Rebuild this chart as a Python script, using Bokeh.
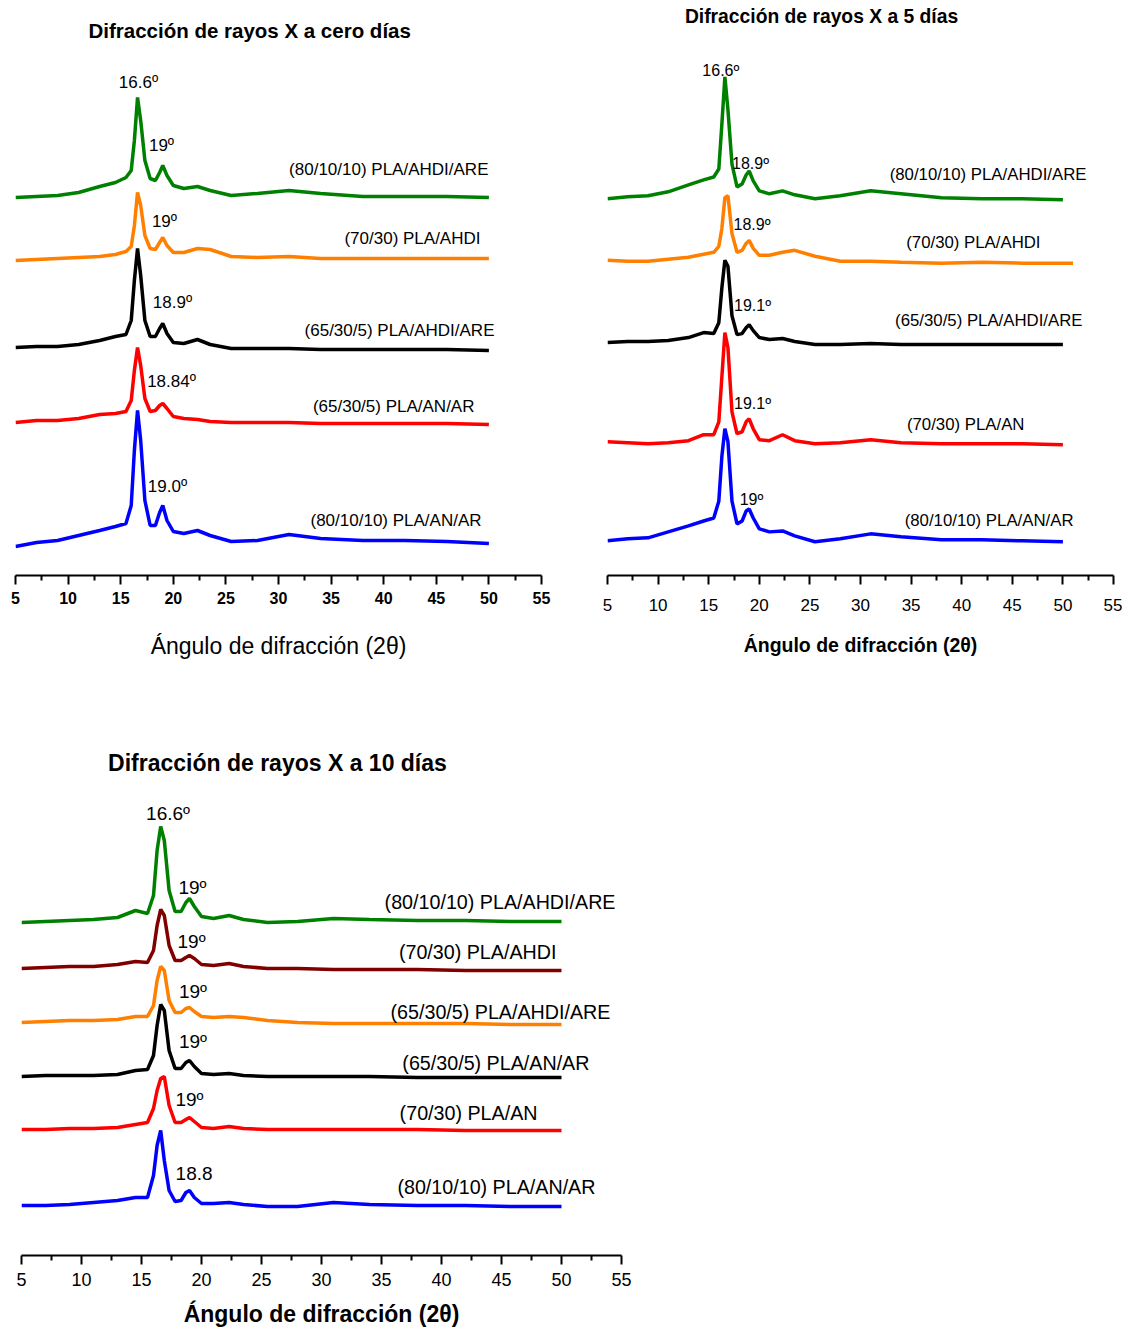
from bokeh.plotting import figure
from bokeh.models import Range1d, FixedTicker, Label
from bokeh.layouts import column, row
from bokeh.embed import file_html
from bokeh.resources import INLINE

# ---------------- data (intensity in arbitrary units, stacked as in the original) ----------------
ANGLES = [5, 7, 9, 11, 13, 14.5, 15.5, 16.0, 16.3, 16.6, 16.9, 17.3, 17.8, 18.3, 18.7,
          19.0, 19.4, 20.0, 21.0, 22.3, 23.5, 25.5, 28, 31, 34, 38, 42, 46, 50]

# Panel 1: cero días
D0_GREEN  = [378,379,380,383,389,393,398,405,435,478,455,415,397,395,403,410,400,390,387,389,385,380,382,385,382,379,379,379,378]
D0_ORANGE = [315,316,317,318,319,321,324,329,350,383,370,340,327,326,333,338,330,323,323,327,326,319,318,319,317,317,317,317,317]
D0_BLACK  = [228,229,229,231,235,239,241,255,295,327,300,255,239,239,247,252,242,233,232,236,231,227,227,227,226,226,226,226,225]
D0_RED    = [153,155,155,157,161,162,164,175,205,228,210,177,164,165,170,172,167,159,157,156,154,153,153,153,152,152,152,152,151]
D0_BLUE   = [29,33,35,40,45,49,52,70,125,165,135,75,50,50,63,70,55,44,42,45,40,34,35,41,37,35,35,34,32]

# Panel 2: 5 días
D5_GREEN  = [380,382,383,387,394,399,402,410,455,503,470,415,392,395,404,408,398,388,385,388,384,380,383,388,385,381,380,380,379]
D5_ORANGE = [318,317,317,319,321,324,326,332,350,381,383,345,326,328,335,338,330,323,323,326,328,322,317,317,316,315,316,315,315]
D5_ORANGE_TAIL = (51.0, 315)
D5_BLACK  = [235,236,236,237,240,245,244,255,290,318,312,262,243,244,250,253,247,240,238,239,236,233,233,234,233,233,233,233,233]
D5_RED    = [135,134,133,134,136,142,142,155,200,245,230,165,143,145,155,158,148,137,136,142,136,133,134,137,134,133,133,133,132]
D5_BLUE   = [35,37,38,44,50,55,58,75,120,148,135,75,52,55,65,67,58,47,44,45,40,34,37,42,39,36,36,35,34]

# Panel 3: 10 días
D10_GREEN   = [333,334,335,336,338,345,342,360,405,429,415,365,344,344,353,357,349,339,337,340,336,333,334,337,336,335,335,334,334]
D10_DARKRED = [287,288,289,289,291,294,293,305,330,346,340,310,295,295,298,300,297,291,290,292,289,287,287,286,286,286,285,285,285]
D10_ORANGE  = [233,234,235,235,236,239,239,250,275,289,285,255,243,243,247,248,244,239,238,239,238,235,233,232,232,232,232,231,231]
D10_BLACK   = [179,180,180,180,181,185,186,200,230,251,245,205,187,187,193,195,189,182,181,182,180,179,179,179,179,178,178,178,178]
D10_RED     = [126,126,127,127,128,131,133,147,165,177,179,150,133,133,136,138,134,128,127,129,127,126,126,126,126,126,125,125,125]
D10_BLUE    = [50,50,51,53,55,58,58,80,110,125,95,65,54,55,63,65,58,52,52,53,51,49,49,53,51,50,50,49,49]

TICKS = [5, 10, 15, 20, 25, 30, 35, 40, 45, 50, 55]
MINOR = [7.5, 12.5, 17.5, 22.5, 27.5, 32.5, 37.5, 42.5, 47.5, 52.5]

TITLES = ["Difracción de rayos X  a cero días", "Difracción de rayos X a 5 días", "Difracción de rayos X a 10 días"]
XLABELS = ["Ángulo de difracción (2θ)", "Ángulo de difracción (2θ)", "Ángulo de difracción (2θ)"]

SERIES0 = ["(80/10/10) PLA/AHDI/ARE", "(70/30) PLA/AHDI", "(65/30/5) PLA/AHDI/ARE", "(65/30/5) PLA/AN/AR", "(80/10/10) PLA/AN/AR"]
PEAKS0 = ["16.6º", "19º", "19º", "18.9º", "18.84º", "19.0º"]
SERIES5 = ["(80/10/10) PLA/AHDI/ARE", "(70/30) PLA/AHDI", "(65/30/5) PLA/AHDI/ARE", "(70/30) PLA/AN", "(80/10/10) PLA/AN/AR"]
PEAKS5 = ["16.6º", "18.9º", "18.9º", "19.1º", "19.1º", "19º"]
SERIES10 = ["(80/10/10) PLA/AHDI/ARE", "(70/30) PLA/AHDI", "(65/30/5) PLA/AHDI/ARE", "(65/30/5) PLA/AN/AR", "(70/30) PLA/AN", "(80/10/10) PLA/AN/AR"]
PEAKS10 = ["16.6º", "19º", "19º", "19º", "19º", "19º", "18.8"]

# ---------------- label placement (angle, intensity) ----------------
POS_SERIES0 = [(49.96, 406), (49.2, 337), (50.53, 245), (48.63, 169), (49.3, 55)]
POS_PEAKS0 = [(16.69, 493), (18.88, 430), (19.16, 354), (19.92, 273), (19.83, 194), (19.45, 89)]
POS_SERIES5 = [(52.33, 404), (47.79, 336), (51.94, 257), (46.2, 152), (51.05, 55)]
POS_PEAKS5 = [(16.2, 509), (19.13, 416), (19.28, 354), (19.33, 272), (19.33, 174), (19.23, 77)]
POS_SERIES10 = [(54.5, 354), (49.58, 304), (54.08, 244), (52.33, 193), (48.0, 143), (52.83, 69)]
POS_PEAKS10 = [(17.21, 442), (19.25, 368), (19.17, 314), (19.29, 264), (19.29, 214), (19.0, 156), (19.38, 82)]
POS_TITLE = [(27.53, 545), (26.15, 564), (26.33, 493)]

GREEN, ORANGE, BLACK, RED, BLUE, DARKRED = "#008000", "#FF8000", "#000000", "#FF0000", "#0000FF", "#800000"

SANS = "'Liberation Sans', Arial, sans-serif"
LW = 3.5


def make_panel(width, height, ymax, borders, tick_size, tick_style, tick_standoff,
               lab_size, lab_style, lab_standoff):
    l, r, t, b = borders
    p = figure(width=width, height=height, x_range=Range1d(5, 55), y_range=Range1d(0, ymax),
               output_backend="svg", toolbar_location=None, y_axis_location=None,
               min_border_left=l, min_border_right=r, min_border_top=t, min_border_bottom=b)
    p.grid.visible = False
    p.outline_line_color = None
    p.background_fill_color = "white"
    p.border_fill_color = "white"
    ax = p.xaxis[0]
    ax.ticker = FixedTicker(ticks=TICKS, minor_ticks=MINOR)
    ax.axis_line_width = 2
    ax.major_tick_line_width = 2
    ax.minor_tick_line_width = 2
    ax.major_tick_in = 0
    ax.major_tick_out = 9
    ax.minor_tick_in = 0
    ax.minor_tick_out = 5
    ax.major_label_text_font = SANS
    ax.major_label_text_font_size = tick_size
    ax.major_label_text_font_style = tick_style
    ax.major_label_text_color = "black"
    ax.major_label_standoff = tick_standoff
    ax.axis_label_text_font = SANS
    ax.axis_label_text_font_size = lab_size
    ax.axis_label_text_font_style = lab_style
    ax.axis_label_text_color = "black"
    ax.axis_label_standoff = lab_standoff
    return p


def add_text(p, txt, pos, size, style="normal", align="center"):
    p.add_layout(Label(x=pos[0], y=pos[1], text=txt, text_font=SANS, text_font_size=size,
                       text_font_style=style, text_align=align, text_baseline="middle",
                       text_color="black"))


# ---------------- panel 1 ----------------
p1 = make_panel(581, 667, 575, (15, 40, 0, 92), "16px", "bold", 7, "23px", "normal", 26)
p1.xaxis.axis_label = XLABELS[0]
for ys, c in [(D0_GREEN, GREEN), (D0_ORANGE, ORANGE), (D0_BLACK, BLACK), (D0_RED, RED), (D0_BLUE, BLUE)]:
    p1.line(ANGLES, ys, line_color=c, line_width=LW)
add_text(p1, TITLES[0], POS_TITLE[0], "20.5px", "bold")
for t, pos in zip(SERIES0, POS_SERIES0):
    add_text(p1, t, pos, "17px", align="right")
for t, pos in zip(PEAKS0, POS_PEAKS0):
    add_text(p1, t, pos, "17px")

# ---------------- panel 2 ----------------
p2 = make_panel(541, 667, 580, (26, 9, 0, 87), "17px", "normal", 14, "19.5px", "bold", 20)
p2.xaxis.axis_label = XLABELS[1]
p2.line(ANGLES, D5_GREEN, line_color=GREEN, line_width=LW)
p2.line(ANGLES + [D5_ORANGE_TAIL[0]], D5_ORANGE + [D5_ORANGE_TAIL[1]], line_color=ORANGE, line_width=LW)
for ys, c in [(D5_BLACK, BLACK), (D5_RED, RED), (D5_BLUE, BLUE)]:
    p2.line(ANGLES, ys, line_color=c, line_width=LW)
add_text(p2, TITLES[1], POS_TITLE[1], "19.3px", "bold")
for t, pos in zip(SERIES5, POS_SERIES5):
    add_text(p2, t, pos, "16.8px", align="right")
for t, pos in zip(PEAKS5, POS_PEAKS5):
    add_text(p2, t, pos, "16px")

# ---------------- panel 3 ----------------
p3 = make_panel(641, 662, 580, (21, 20, 8, 74), "18px", "normal", 8, "23px", "bold", 12)
p3.xaxis.axis_label = XLABELS[2]
for ys, c in [(D10_GREEN, GREEN), (D10_DARKRED, DARKRED), (D10_ORANGE, ORANGE), (D10_BLACK, BLACK),
              (D10_RED, RED), (D10_BLUE, BLUE)]:
    p3.line(ANGLES, ys, line_color=c, line_width=LW)
add_text(p3, TITLES[2], POS_TITLE[2], "23px", "bold")
for t, pos in zip(SERIES10, POS_SERIES10):
    add_text(p3, t, pos, "19.7px", align="right")
for t, pos in zip(PEAKS10, POS_PEAKS10):
    add_text(p3, t, pos, "19px")

layout = column(row(p1, p2), p3)
open("out.html", "w").write(file_html(layout, INLINE))
